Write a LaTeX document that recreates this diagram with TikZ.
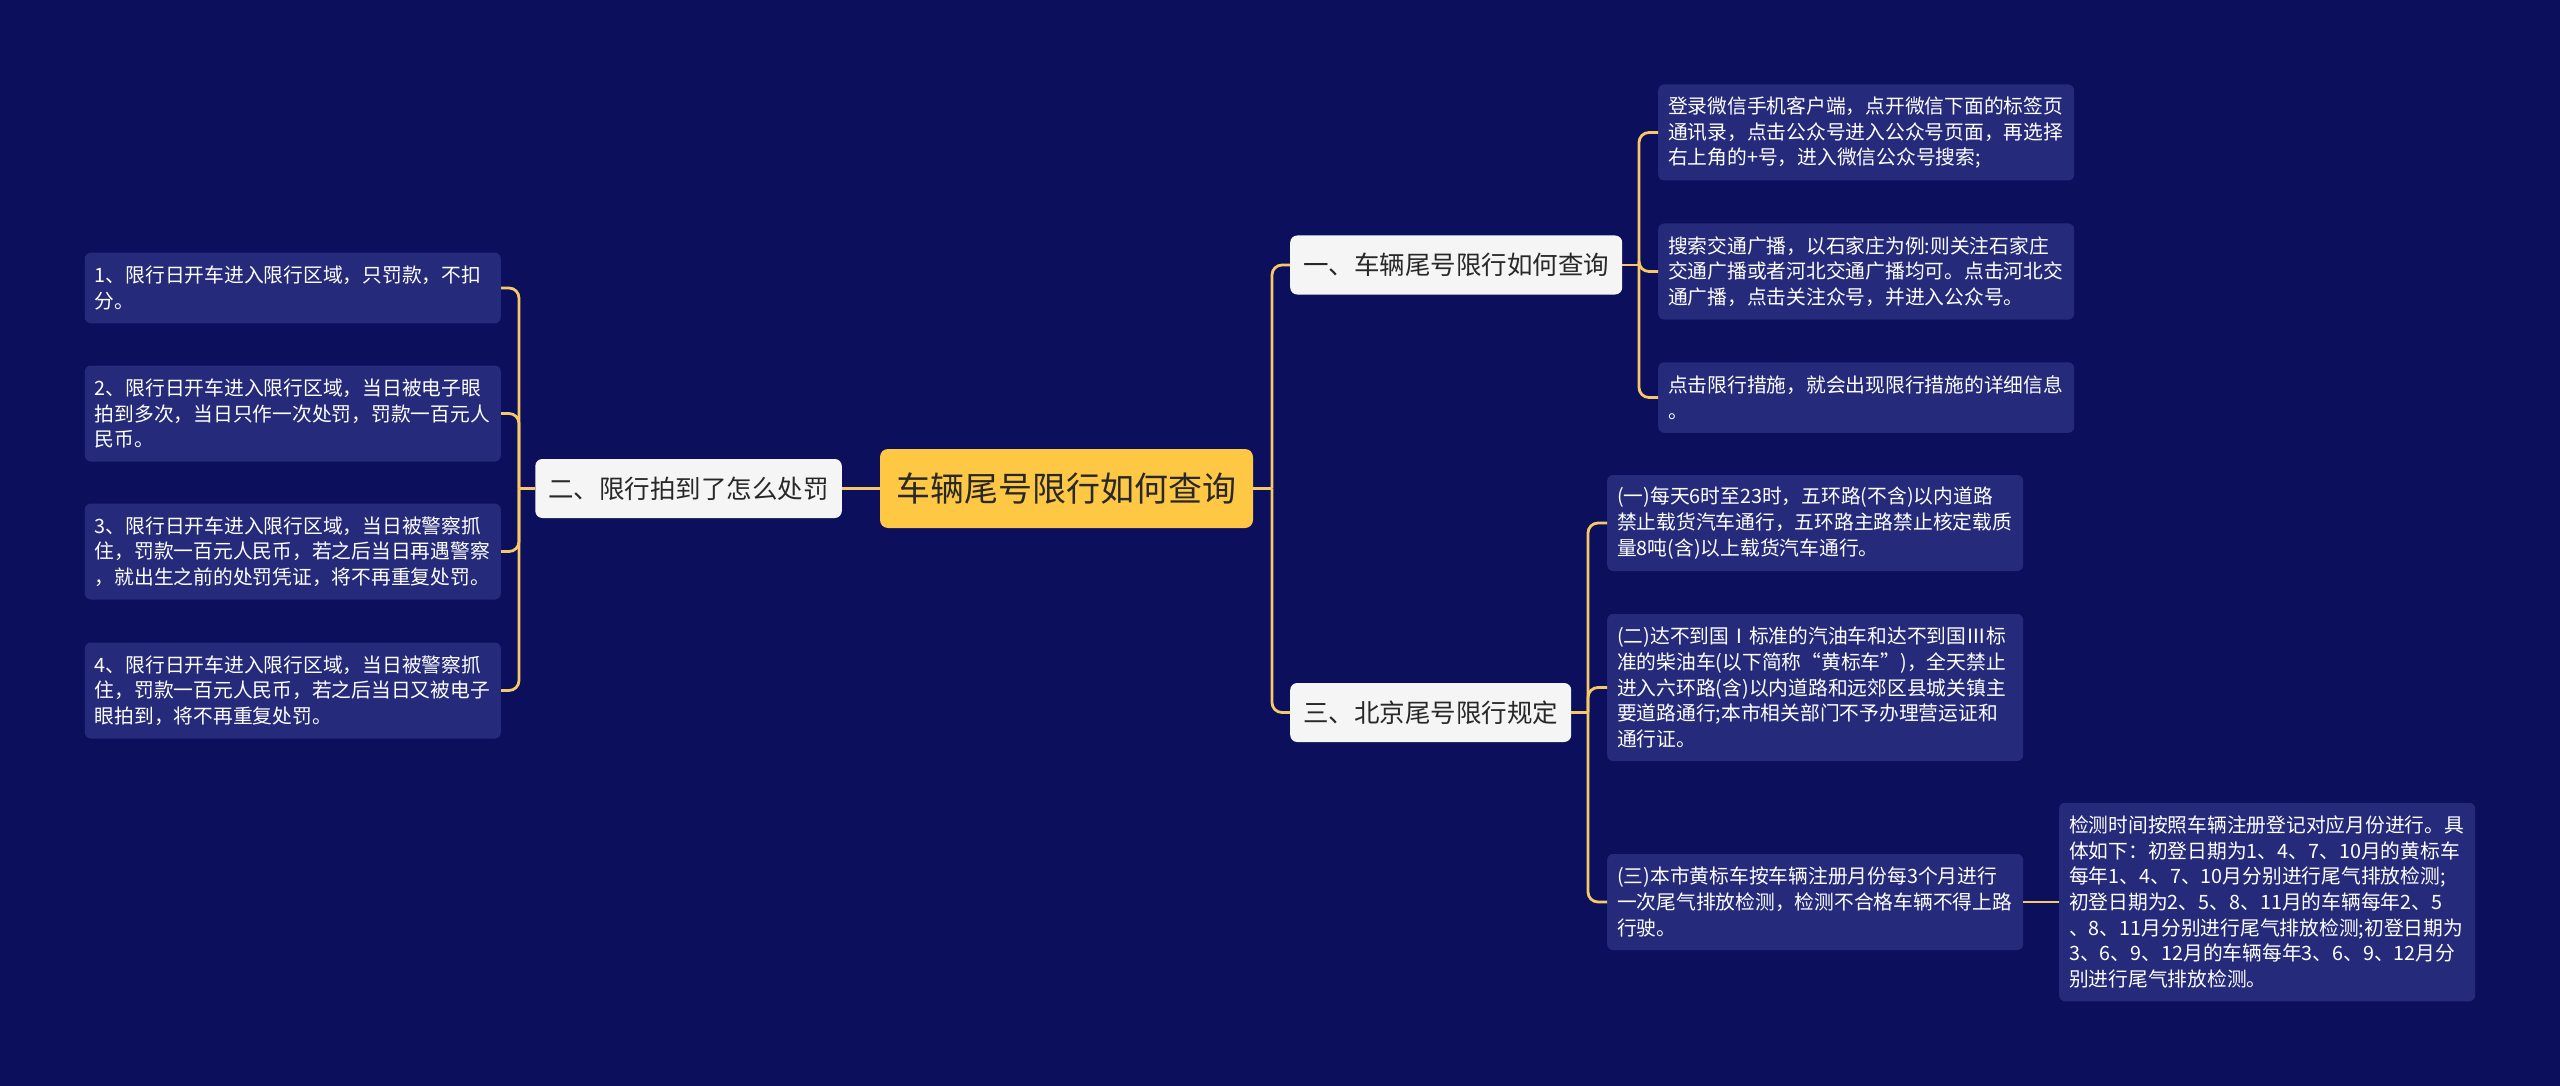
\documentclass[tikz,border=0pt]{standalone}
\usepackage{fontspec}
\newfontfamily\cjkfont{Noto Sans CJK SC}
\usepackage{tikz}

\definecolor{bgnavy}{RGB}{11,15,92}
\definecolor{leafblue}{RGB}{37,43,122}
\definecolor{branchwhite}{RGB}{245,245,246}
\definecolor{rootyellow}{RGB}{255,200,68}
\definecolor{darktext}{RGB}{40,40,40}
\definecolor{linkgold}{RGB}{246,200,104}

\begin{document}
\begin{tikzpicture}[
    x=1pt, y=-1pt,
    rootbox/.style = {rectangle, rounded corners=8pt, fill=rootyellow, text=darktext, minimum width=373pt, minimum height=79pt, inner sep=0pt, font=\cjkfont\fontsize{34}{38}\selectfont},
    branchbox/.style = {rectangle, rounded corners=7pt, fill=branchwhite, text=darktext, minimum height=59pt, inner xsep=13pt, inner ysep=0pt, font=\cjkfont\fontsize{25.5}{30}\selectfont},
    leafbox/.style = {rectangle, rounded corners=6pt, fill=leafblue, text=white, text width=396pt, inner xsep=10pt, inner ysep=0pt, align=left, font=\cjkfont\fontsize{19.75}{25.7}\selectfont},
    link/.style = {draw=linkgold, line width=2.8pt, rounded corners=10pt}
]

% Background, also fixes the page size
\fill[bgnavy] (0,0) rectangle (2560,1086);

% Centre and the three branches
\node[rootbox] (root) at (1066.5,488.5) {车辆尾号限行如何查询};
\node[branchbox, anchor=east] (two) at (842,488.5) {二、限行拍到了怎么处罚};
\node[branchbox, anchor=west] (one) at (1290,265) {一、车辆尾号限行如何查询};
\node[branchbox, anchor=west] (three) at (1290,712.5) {三、北京尾号限行规定};

% Bus points where the connectors split
\coordinate (rootbus) at (1272,488.5);
\coordinate (twobus) at (519,488.5);
\coordinate (onebus) at (1639,265);
\coordinate (threebus) at (1588,712.5);

% Leaves of branch two (left side)
\node[leafbox, anchor=east, minimum height=70.5pt] (pen1) at (501,288) {1、限行日开车进入限行区域，只罚款，不扣\\分。};
\node[leafbox, anchor=east, minimum height=96pt] (pen2) at (501,413.5) {2、限行日开车进入限行区域，当日被电子眼\\拍到多次，当日只作一次处罚，罚款一百元人\\民币。};
\node[leafbox, anchor=east, minimum height=96pt] (pen3) at (501,551.5) {3、限行日开车进入限行区域，当日被警察抓\\住，罚款一百元人民币，若之后当日再遇警察\\，就出生之前的处罚凭证，将不再重复处罚。};
\node[leafbox, anchor=east, minimum height=96pt] (pen4) at (501,690.5) {4、限行日开车进入限行区域，当日被警察抓\\住，罚款一百元人民币，若之后当日又被电子\\眼拍到，将不再重复处罚。};

% Leaves of branch one (upper right)
\node[leafbox, anchor=west, minimum height=96pt] (ask1) at (1658,132.5) {登录微信手机客户端，点开微信下面的标签页\\通讯录，点击公众号进入公众号页面，再选择\\右上角的+号，进入微信公众号搜索;};
\node[leafbox, anchor=west, minimum height=96pt] (ask2) at (1658,271.5) {搜索交通广播，以石家庄为例:则关注石家庄\\交通广播或者河北交通广播均可。点击河北交\\通广播，点击关注众号，并进入公众号。};
\node[leafbox, anchor=west, minimum height=70.5pt] (ask3) at (1658,397.5) {点击限行措施，就会出现限行措施的详细信息\\。};

% Leaves of branch three (lower right)
\node[leafbox, anchor=west, minimum height=96pt] (rule1) at (1607,523) {(一)每天6时至23时，五环路(不含)以内道路\\禁止载货汽车通行，五环路主路禁止核定载质\\量8吨(含)以上载货汽车通行。};
\node[leafbox, anchor=west, minimum height=147pt] (rule2) at (1607,687.5) {(二)达不到国Ⅰ标准的汽油车和达不到国Ⅲ标\\准的柴油车(以下简称“黄标车”)，全天禁止\\进入六环路(含)以内道路和远郊区县城关镇主\\要道路通行;本市相关部门不予办理营运证和\\通行证。};
\node[leafbox, anchor=west, minimum height=96pt] (rule3) at (1607,902) {(三)本市黄标车按车辆注册月份每3个月进行\\一次尾气排放检测，检测不合格车辆不得上路\\行驶。};
\node[leafbox, anchor=west, minimum height=198.5pt] (check) at (2059,902) {检测时间按照车辆注册登记对应月份进行。具\\体如下：初登日期为1、4、7、10月的黄标车\\每年1、4、7、10月分别进行尾气排放检测;\\初登日期为2、5、8、11月的车辆每年2、5\\、8、11月分别进行尾气排放检测;初登日期为\\3、6、9、12月的车辆每年3、6、9、12月分\\别进行尾气排放检测。};

% Centre to branches
\draw[link] (root.west) -- (two.east);
\draw[link] (root.east) -- (rootbus);
\draw[link] (rootbus) |- (one.west);
\draw[link] (rootbus) |- (three.west);

% Branch two to its leaves
\draw[link] (two.west) -- (twobus);
\draw[link] (twobus) |- (pen1.east);
\draw[link] (twobus) |- (pen2.east);
\draw[link] (twobus) |- (pen3.east);
\draw[link] (twobus) |- (pen4.east);

% Branch one to its leaves
\draw[link] (one.east) -- (onebus);
\draw[link] (onebus) |- (ask1.west);
\draw[link] (onebus) |- (ask2.west);
\draw[link] (onebus) |- (ask3.west);

% Branch three to its leaves
\draw[link] (three.east) -- (threebus);
\draw[link] (threebus) |- (rule1.west);
\draw[link] (threebus) |- (rule2.west);
\draw[link] (threebus) |- (rule3.west);
\draw[link] (rule3.east) -- (check.west);

\end{tikzpicture}
\end{document}
